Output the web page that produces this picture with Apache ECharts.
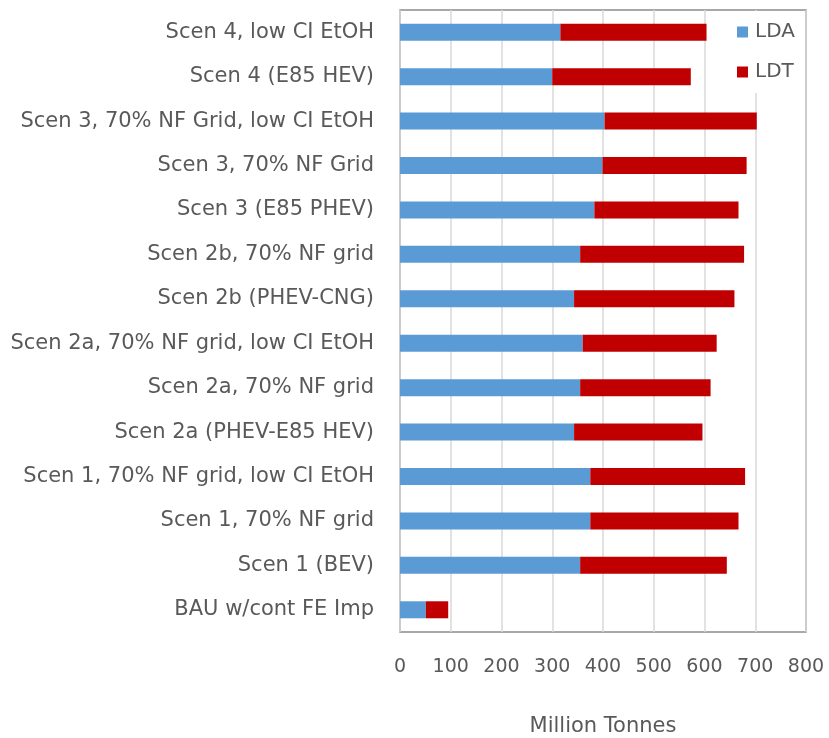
<!DOCTYPE html>
<html>
<head>
<meta charset="utf-8">
<script src="https://cdn.jsdelivr.net/npm/echarts@6/dist/echarts.min.js"></script>
<style>
  html, body { margin: 0; padding: 0; background: #fff; }
  #chart { width: 829px; height: 738px; }
</style>
</head>
<body>
<div id="chart"></div>
<script>
// Scenario names, listed top to bottom
const scenarios = [
  'Scen 4, low CI EtOH',
  'Scen 4 (E85 HEV)',
  'Scen 3, 70% NF Grid, low CI EtOH',
  'Scen 3, 70% NF Grid',
  'Scen 3 (E85 PHEV)',
  'Scen 2b, 70% NF grid',
  'Scen 2b (PHEV-CNG)',
  'Scen 2a, 70% NF grid, low CI EtOH',
  'Scen 2a, 70% NF grid',
  'Scen 2a (PHEV-E85 HEV)',
  'Scen 1, 70% NF grid, low CI EtOH',
  'Scen 1, 70% NF grid',
  'Scen 1 (BEV)',
  'BAU w/cont FE Imp'
];

// Light-duty autos (million tonnes)
const ldaValues = [316, 300, 403, 399, 383, 355, 343, 360, 355, 343, 375, 375, 355, 51];
// Light-duty trucks (million tonnes)
const ldtValues = [288, 273, 300, 284, 284, 323, 316, 264, 257, 253, 305, 292, 289, 44];

const xTicks = { min: 0, max: 800, step: 100 };
const axisTitle = 'Million Tonnes';

const FONT = 'DejaVu Sans';
const TEXT_COLOR = '#595959';

const chart = echarts.init(document.getElementById('chart'), null, { renderer: 'canvas' });

chart.setOption({
  animation: false,
  backgroundColor: '#fff',
  textStyle: { fontFamily: FONT },
  grid: {
    left: 400, right: 23, top: 10, bottom: 106,
    outerBoundsMode: 'none',
    containLabel: false,
    show: true, borderColor: '#8c8c8c', borderWidth: 1.5, backgroundColor: 'transparent'
  },
  legend: {
    orient: 'vertical',
    left: 729, top: 11,
    padding: [11, 8, 11, 8],
    backgroundColor: '#fff',
    itemWidth: 11, itemHeight: 11,
    itemGap: 20,
    icon: 'rect',
    textStyle: { fontFamily: FONT, fontSize: 20, color: TEXT_COLOR, lineHeight: 20, padding: [0, 0, 0, 2] },
    data: ['LDA', 'LDT']
  },
  xAxis: {
    type: 'value',
    min: xTicks.min, max: xTicks.max, interval: xTicks.step,
    axisLine: { show: false },
    axisTick: { show: false },
    splitLine: { show: true, lineStyle: { color: '#d9d9d9', width: 1.5 } },
    axisLabel: { fontFamily: FONT, fontSize: 19, color: TEXT_COLOR, margin: 26 },
    name: axisTitle,
    nameLocation: 'middle',
    nameGap: 84,
    nameTextStyle: { fontFamily: FONT, fontSize: 21, color: TEXT_COLOR }
  },
  yAxis: {
    type: 'category',
    inverse: true,
    data: scenarios,
    axisLine: { show: false },
    axisTick: { show: false },
    splitLine: { show: false },
    axisLabel: { fontFamily: FONT, fontSize: 21, color: TEXT_COLOR, margin: 26 }
  },
  series: [
    {
      name: 'LDA', type: 'bar', stack: 'total', barWidth: 17,
      itemStyle: { color: '#5b9bd5' },
      data: ldaValues
    },
    {
      name: 'LDT', type: 'bar', stack: 'total', barWidth: 17,
      itemStyle: { color: '#c00000' },
      data: ldtValues
    }
  ]
});
</script>
</body>
</html>
